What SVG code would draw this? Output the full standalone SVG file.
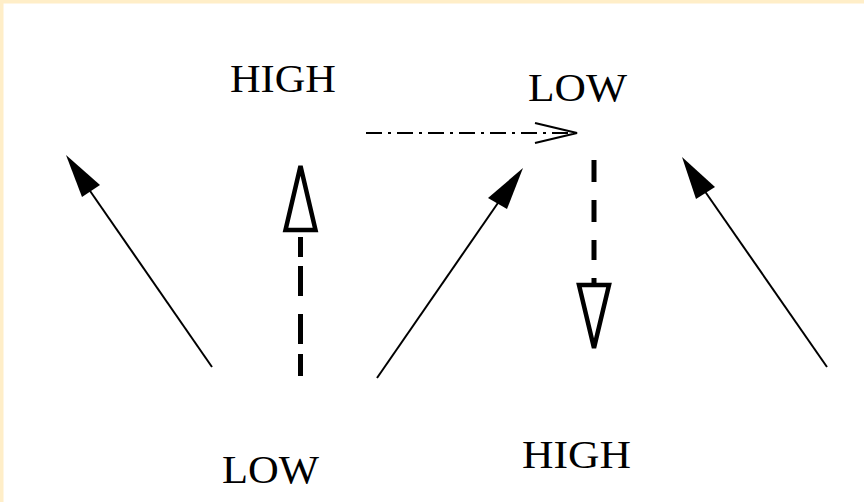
<svg xmlns="http://www.w3.org/2000/svg" width="864" height="502" viewBox="0 0 864 502">
<style>
.lbl{font-family:"Liberation Serif","Times New Roman",serif;font-size:41px;fill:#000}
.solid{stroke:#000;stroke-width:2;fill:none}
.dash{stroke:#000;stroke-width:5;fill:none;stroke-dasharray:28 14}
.open{stroke:#000;stroke-width:4.5;fill:#fff;stroke-linejoin:miter}
.head{fill:#000;stroke:none}
</style>
<rect x="0" y="0" width="864" height="502" fill="#fff"/>
<path d="M0 0H864V3.5H3.5V502H0Z" fill="#FFEEC8"/>
<g id="labels">
<g id="high-top"><text class="lbl" x="230" y="92" textLength="106" lengthAdjust="spacingAndGlyphs">HIGH</text></g>
<g id="low-top"><text class="lbl" x="528" y="101" textLength="99" lengthAdjust="spacingAndGlyphs">LOW</text></g>
<g id="low-bottom"><text class="lbl" x="222" y="483" textLength="97" lengthAdjust="spacingAndGlyphs">LOW</text></g>
<g id="high-bottom"><text class="lbl" x="522" y="468" textLength="109" lengthAdjust="spacingAndGlyphs">HIGH</text></g>
</g>
<g id="connectors">
<g id="arrow-left">
<line class="solid" x1="212" y1="367" x2="88" y2="188"/>
<polygon class="head" points="66,155 100,185 82,197"/>
</g>
<g id="arrow-mid">
<line class="solid" x1="377" y1="378" x2="500" y2="200"/>
<polygon class="head" points="523,168 507,209 488,198"/>
</g>
<g id="arrow-right">
<line class="solid" x1="827" y1="367" x2="704" y2="190"/>
<polygon class="head" points="682,157 715,187 696,199"/>
</g>
<g id="arrow-dash-up">
<line class="dash" x1="300.5" y1="376" x2="300.5" y2="236" style="stroke-dasharray:22 10 30 18 30 9 20 100"/>
<polygon class="open" points="300.5,166 315.5,230 285.5,230"/>
</g>
<g id="arrow-dash-down">
<line class="dash" x1="594" y1="160" x2="594" y2="286" style="stroke-dasharray:22 18 22 18 20 18 6"/>
<polygon class="open" points="579,285 609,285 594,348"/>
</g>
<g id="arrow-dashdot">
<line x1="366" y1="133" x2="576" y2="133" stroke="#000" stroke-width="2.2" stroke-dasharray="16 6 3 6"/>
<polyline points="535,123 577,133 535,143" fill="none" stroke="#000" stroke-width="2.2"/>
</g>
</g>
</svg>
